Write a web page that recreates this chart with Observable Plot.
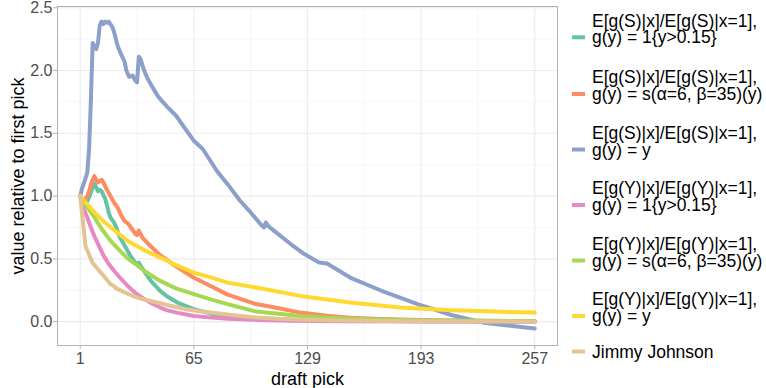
<!DOCTYPE html>
<html>
<head>
<meta charset="utf-8">
<script src="https://cdn.jsdelivr.net/npm/d3@7"></script>
<script src="https://cdn.jsdelivr.net/npm/@observablehq/plot@0.6"></script>
<style>
  html, body { margin: 0; padding: 0; background: #fff; }
  #wrap { position: relative; width: 766px; height: 388px; font-family: "Liberation Sans", Arial, Helvetica, sans-serif; }
  #legend { position: absolute; left: 0; top: 0; }
</style>
</head>
<body>
<div id="wrap"></div>
<script>
// ---- tick values ----
const xTicks = [1, 65, 129, 193, 257];
const xMinor = [33, 97, 161, 225];
const yTicks = [0, 0.5, 1, 1.5, 2, 2.5];
const yMinor = [0.25, 0.75, 1.25, 1.75, 2.25];

// ---- series names & colours ----
const seriesNames = [
  "E[g(S)|x]/E[g(S)|x=1],\ng(y) = 1{y>0.15}",
  "E[g(S)|x]/E[g(S)|x=1],\ng(y) = s(α=6, β=35)(y)",
  "E[g(S)|x]/E[g(S)|x=1],\ng(y) = y",
  "E[g(Y)|x]/E[g(Y)|x=1],\ng(y) = 1{y>0.15}",
  "E[g(Y)|x]/E[g(Y)|x=1],\ng(y) = s(α=6, β=35)(y)",
  "E[g(Y)|x]/E[g(Y)|x=1],\ng(y) = y",
  "Jimmy Johnson"
];
const seriesColors = ["#66C2A5", "#FC8D62", "#8DA0CB", "#E78AC3", "#A6D854", "#FFD92F", "#E5C494"];

// ---- series values (pick, value) ----
const sBinaryX = [1,2,3,4,5,6,7,8,9,10,11,12,13,14,15,16,17,18,19,20,21,22,23,25,27,29,31,32,33,34,35,38,41,43,46,50,56,65,78,90,101,120,150,200,257];
const sBinaryY = [1.0,0.96,0.94,0.94,0.96,0.99,1.03,1.07,1.10,1.07,1.04,1.05,1.04,1.01,0.98,0.93,0.87,0.83,0.81,0.79,0.76,0.72,0.68,0.63,0.58,0.53,0.49,0.47,0.46,0.47,0.445,0.38,0.32,0.29,0.245,0.20,0.15,0.099,0.053,0.035,0.027,0.015,0.007,0.003,0.001];

const sSigX = [1,2,3,4,5,6,7,8,9,10,11,12,13,14,16,18,20,22,24,26,28,30,32,33,34,36,40,46,55,65,75,84,100,115,125,140,153,170,181,200,225,257];
const sSigY = [1.0,0.98,0.97,0.98,1.0,1.04,1.09,1.13,1.16,1.13,1.11,1.12,1.13,1.11,1.05,1.0,0.95,0.91,0.85,0.80,0.78,0.74,0.70,0.69,0.725,0.67,0.61,0.53,0.44,0.35,0.28,0.215,0.14,0.10,0.072,0.048,0.032,0.022,0.018,0.012,0.007,0.004];

const sLinX = [1,2,3,4,5,6,7,8,9,10,11,12,13,14,15,16,17,18,19,20,22,24,26,27,28.5,30.5,32,33,34,35,37,39,42,45,50,55,60,65,70,78,84,91,97,102.5,104.5,105.5,107,109,119.5,127,135.5,140,153,170,191,210,228,257];
const sLinY = [1.0,1.06,1.10,1.14,1.19,1.38,1.76,2.22,2.19,2.17,2.22,2.36,2.39,2.37,2.39,2.38,2.39,2.37,2.35,2.31,2.2,2.13,2.07,2.0,1.95,1.96,1.92,1.905,2.11,2.09,2.0,1.935,1.86,1.79,1.71,1.64,1.54,1.44,1.375,1.2,1.095,0.963,0.87,0.777,0.75,0.79,0.76,0.737,0.618,0.54,0.471,0.463,0.351,0.25,0.139,0.053,-0.008,-0.055];

const yBinaryX = [1,2,3,4,5,7,9,11,14,17,20,24,28,32,37,42,46,50,56,65,75,84,101,120,150,200,257];
const yBinaryY = [1.0,0.95,0.9,0.86,0.83,0.75,0.68,0.62,0.53,0.46,0.405,0.34,0.28,0.23,0.18,0.14,0.112,0.09,0.07,0.045,0.032,0.024,0.014,0.008,0.004,0.001,0.0];

const ySigX = [1,3,5,9,13,18,23,28,33,37,42,46,55,65,75,84,100,125,153,190,257];
const ySigY = [1.0,0.95,0.91,0.83,0.74,0.645,0.57,0.50,0.45,0.405,0.36,0.325,0.265,0.219,0.175,0.139,0.08,0.045,0.024,0.011,0.004];

const yLinX = [1,3,5,9,14,20,28,37,46,55,65,75,84,100,125,153,181,210,235,257];
const yLinY = [1.0,0.965,0.935,0.87,0.8,0.73,0.64,0.57,0.511,0.45,0.391,0.35,0.311,0.272,0.205,0.152,0.112,0.091,0.08,0.072];

const jjX = [1,2,3,4,5,6,7,8,9,10,12,14,16,18,20,21,24,28,32,36,40,46,50,56,60,65,72,80,90,100,112,128,150,175,200,224,257];
const jjY = [1.0,0.867,0.733,0.6,0.567,0.533,0.5,0.467,0.45,0.433,0.4,0.367,0.333,0.3,0.283,0.267,0.247,0.22,0.197,0.18,0.167,0.147,0.133,0.113,0.1,0.088,0.077,0.063,0.047,0.033,0.023,0.015,0.01,0.006,0.003,0.001,0.0];

const seriesXs = [sBinaryX, sSigX, sLinX, yBinaryX, ySigX, yLinX, jjX];
const seriesYs = [sBinaryY, sSigY, sLinY, yBinaryY, ySigY, yLinY, jjY];

const data = seriesNames.flatMap((name, i) =>
  seriesXs[i].map((x, j) => ({series: name, pick: x, value: seriesYs[i][j]}))
);

const plot = Plot.plot({
  width: 766,
  height: 388,
  marginLeft: 57,
  marginRight: 209,
  marginTop: 6,
  marginBottom: 43,
  style: {fontFamily: '"Liberation Sans", Arial, Helvetica, sans-serif', fontSize: "16px", background: "white"},
  x: {domain: [-11.8, 269.8]},
  y: {domain: [-0.19, 2.51]},
  color: {domain: seriesNames, range: seriesColors},
  marks: [
    Plot.ruleX(xMinor, {stroke: "#f3f3f3", strokeWidth: 0.7}),
    Plot.ruleY(yMinor, {stroke: "#f3f3f3", strokeWidth: 0.7}),
    Plot.ruleX(xTicks, {stroke: "#ebebeb", strokeWidth: 1.1}),
    Plot.ruleY(yTicks, {stroke: "#ebebeb", strokeWidth: 1.1}),
    Plot.line(data, {x: "pick", y: "value", z: "series", stroke: "series", strokeWidth: 4, strokeLinejoin: "round"}),
    Plot.frame({stroke: "#b3b3b3", strokeWidth: 1}),
    Plot.axisX(xTicks, {tickSize: 4, tickPadding: 3, fontSize: 16, stroke: "#b3b3b3", fill: "#4d4d4d", label: null, tickFormat: d3.format("d")}),
    Plot.axisY(yTicks, {tickSize: 4, tickPadding: 1, fontSize: 16, stroke: "#b3b3b3", fill: "#4d4d4d", label: null, tickFormat: d3.format(".1f")}),
    Plot.text(["draft pick"], {frameAnchor: "bottom", lineAnchor: "middle", textAnchor: "middle", dy: 34, fontSize: 18, fill: "black"}),
    Plot.text(["value relative to first pick"], {frameAnchor: "left", textAnchor: "middle", lineAnchor: "middle", dx: -39, rotate: -90, fontSize: 18, fill: "black"})
  ]
});

const wrap = document.getElementById("wrap");
wrap.appendChild(plot);

// ---- legend ----
const keyY = [37.3, 94, 149.5, 205, 260.5, 316, 351.5];
const leg = d3.select(wrap).append("svg")
  .attr("id", "legend")
  .attr("width", 766).attr("height", 388)
  .style("pointer-events", "none");
seriesNames.forEach((name, i) => {
  const g = leg.append("g");
  g.append("line")
    .attr("x1", 572).attr("x2", 585)
    .attr("y1", keyY[i]).attr("y2", keyY[i])
    .attr("stroke", seriesColors[i]).attr("stroke-width", 4);
  const lines = name.split("\n");
  lines.forEach((t, k) => {
    g.append("text")
      .attr("x", 592)
      .attr("y", keyY[i] - (lines.length - 1 - k) * 16.7)
      .attr("dy", "0.35em")
      .attr("font-size", 17.5)
      .attr("font-family", '"Liberation Sans", Arial, Helvetica, sans-serif')
      .attr("fill", "black")
      .text(t);
  });
});
</script>
</body>
</html>
